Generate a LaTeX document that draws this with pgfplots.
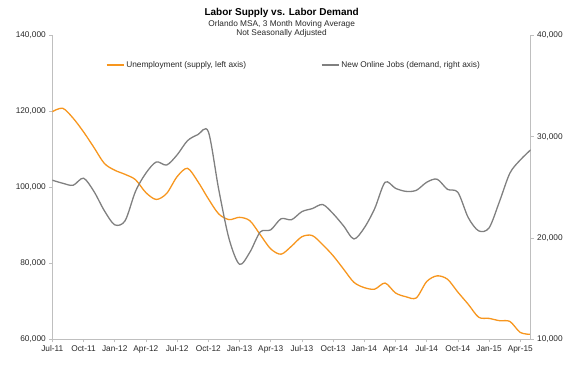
\documentclass[border=0pt]{standalone}
\usepackage{pgfplots}
\pgfplotsset{compat=1.18}
\usepackage{pgfplotstable}
\usepackage{fontspec}
\setmainfont{Liberation Sans}
\definecolor{orng}{RGB}{247,150,30}
\definecolor{gry}{RGB}{128,128,128}
\definecolor{axgray}{RGB}{191,191,191}
\definecolor{txt}{RGB}{40,40,40}
\pgfplotstableread{
m v
0 119900
1 120800
2 118200
3 114600
4 110500
5 106300
6 104500
7 103400
8 102000
9 98600
10 96800
11 98400
12 102800
13 105000
14 101500
15 97000
16 93000
17 91500
18 92100
19 91200
20 87500
21 83800
22 82400
23 84500
24 87000
25 87300
26 84900
27 82000
28 78500
29 75000
30 73600
31 73200
32 74800
33 72200
34 71200
35 70900
36 75200
37 76700
38 75800
39 72400
40 69200
41 65800
42 65500
43 64900
44 64700
45 61800
46 61300
}\unemp
\pgfplotstableread{
m v
0 25700
1 25400
2 25200
3 25900
4 24600
5 22700
6 21300
7 21700
8 24600
9 26400
10 27500
11 27200
12 28200
13 29600
14 30200
15 30500
16 24800
17 19900
18 17400
19 18600
20 20600
21 20800
22 21900
23 21800
24 22600
25 22900
26 23300
27 22400
28 21200
29 19900
30 21000
31 22900
32 25500
33 24900
34 24600
35 24700
36 25500
37 25800
38 24800
39 24500
40 22000
41 20700
42 21000
43 23600
44 26400
45 27700
46 28700
}\jobs
\begin{document}
\begin{tikzpicture}[x=1pt,y=1pt]
\useasboundingbox (0,0) rectangle (587,384);
\node[font=\fontsize{10}{12}\selectfont\bfseries, text=black] at (281.7,370.7) {Labor Supply vs. Labor Demand};
\node[font=\fontsize{8.3}{10}\selectfont, text=txt] at (281.7,359.7) {Orlando MSA, 3 Month Moving Average};
\node[font=\fontsize{8.3}{10}\selectfont, text=txt] at (281.5,350.7) {Not Seasonally Adjusted};
\begin{axis}[
  at={(52.3pt,44.7pt)}, anchor=south west, scale only axis,
  width=478.4pt, height=304pt,
  xmin=0, xmax=46, ymin=60000, ymax=140000,
  axis x line*=bottom, axis y line*=left,
  axis line style={axgray, line width=0.8pt},
  xtick={0,3,...,45},
  xticklabels={Jul-11,Oct-11,Jan-12,Apr-12,Jul-12,Oct-12,Jan-13,Apr-13,Jul-13,Oct-13,Jan-14,Apr-14,Jul-14,Oct-14,Jan-15,Apr-15},
  ytick={60000,80000,...,140000},
  scaled y ticks=false,
  /pgf/number format/.cd, fixed, precision=0, 1000 sep={,}, assume math mode=true, /pgfplots/.cd,
  tick align=outside, major tick length=3pt,
  tick style={axgray, line width=0.8pt},
  ticklabel style={font=\fontsize{8.3}{10}\selectfont, text=txt},
  legend columns=2,
  legend style={at={(rel axis cs:0.505,0.902)}, anchor=center, draw=none, fill=none,
    font=\fontsize{8.3}{10}\selectfont, text=txt,
    /tikz/every even column/.append style={column sep=73pt}},
  legend cell align=left,
]
\addplot[orng, line width=1.3pt, smooth, tension=0.5] table[x=m,y=v]{\unemp};
\addlegendentry{Unemployment (supply, left axis)}
\addlegendimage{gry, line width=1.3pt}
\addlegendentry{New Online Jobs (demand, right axis)}
\end{axis}
\begin{axis}[
  at={(52.3pt,44.7pt)}, anchor=south west, scale only axis,
  width=478.4pt, height=304pt,
  xmin=0, xmax=46, ymin=10000, ymax=40000,
  axis x line=none, axis y line*=right,
  axis line style={axgray, line width=0.8pt},
  ytick={10000,20000,...,40000},
  scaled y ticks=false,
  /pgf/number format/.cd, fixed, precision=0, 1000 sep={,}, assume math mode=true, /pgfplots/.cd,
  tick align=outside, major tick length=3pt,
  tick style={axgray, line width=0.8pt},
  ticklabel style={font=\fontsize{8.3}{10}\selectfont, text=txt},
]
\addplot[gry, line width=1.3pt, smooth, tension=0.5] table[x=m,y=v]{\jobs};
\end{axis}
\end{tikzpicture}
\end{document}
